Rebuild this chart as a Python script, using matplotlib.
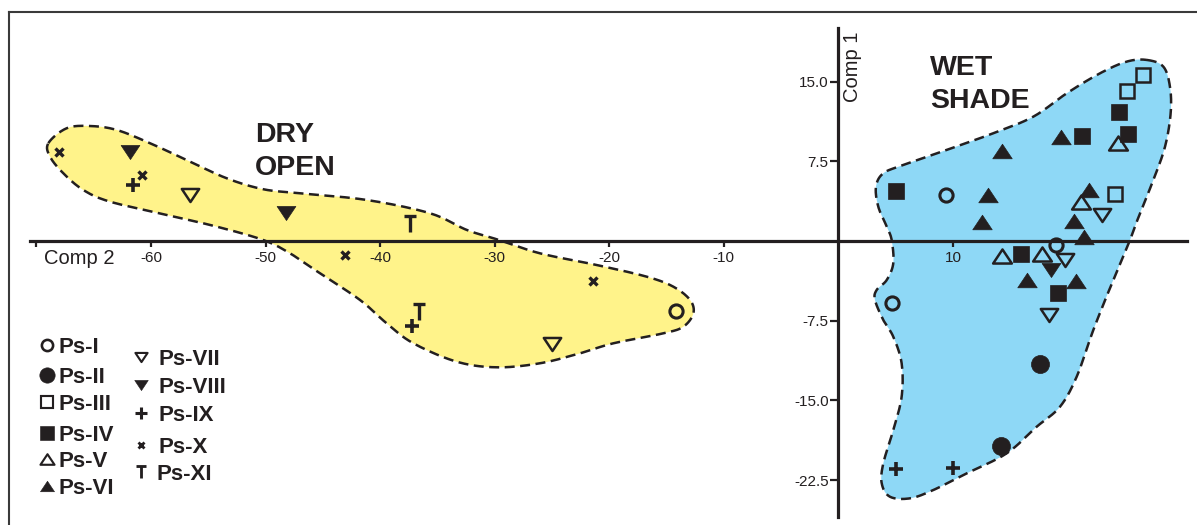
import numpy as np
import matplotlib
matplotlib.use("Agg")
import matplotlib.pyplot as plt
from matplotlib.path import Path
from matplotlib.lines import Line2D

plt.rcParams['font.family'] = ['Liberation Sans', 'DejaVu Sans']

INK = '#231f20'
YELLOW = '#fff38a'
BLUE = '#8ed8f6'

# ---------------- data (Comp 2 = x, Comp 1 = y) ----------------
ps1_x = [-14.2, 9.4, 19.0, 4.7]
ps1_y = [-6.6, 4.3, -0.4, -5.8]
ps2_x = [17.6, 14.2]
ps2_y = [-11.6, -19.3]
ps3_x = [26.6, 25.2, 24.1]
ps3_y = [15.6, 14.1, 4.4]
ps4_x = [24.5, 25.3, 21.3, 5.0, 15.9, 19.2]
ps4_y = [12.1, 10.1, 9.9, 4.7, -1.25, -4.9]
ps5_x = [24.4, 21.2, 14.3, 17.8]
ps5_y = [9.25, 3.7, -1.4, -1.2]
ps6_x = [19.4, 14.3, 13.1, 12.5, 21.9, 20.6, 21.4, 16.5, 20.7]
ps6_y = [9.8, 8.5, 4.3, 1.8, 4.8, 1.9, 0.4, -3.7, -3.8]
ps7_x = [-56.6, -25.0, 23.0, 19.8, 18.4]
ps7_y = [4.3, -9.7, 2.4, -1.8, -7.0]
ps8_x = [-61.8, -48.2, 18.6]
ps8_y = [8.4, 2.6, -2.7]
ps9_x = [-61.6, -37.2, 5.0, 10.0]
ps9_y = [5.3, -8.0, -21.5, -21.4]
ps10_x = [-68.0, -60.8, -43.1, -21.4]
ps10_y = [8.4, 6.2, -1.3, -3.8]
ps11_x = [-37.4, -36.6]
ps11_y = [1.6, -6.7]

series_names = ['Ps-I', 'Ps-II', 'Ps-III', 'Ps-IV', 'Ps-V', 'Ps-VI',
                'Ps-VII', 'Ps-VIII', 'Ps-IX', 'Ps-X', 'Ps-XI']
series_x = [ps1_x, ps2_x, ps3_x, ps4_x, ps5_x, ps6_x, ps7_x, ps8_x, ps9_x, ps10_x, ps11_x]
series_y = [ps1_y, ps2_y, ps3_y, ps4_y, ps5_y, ps6_y, ps7_y, ps8_y, ps9_y, ps10_y, ps11_y]

# group outlines (traced hull vertices)
dry_x = [-68.96, -67.36, -65.32, -62.99, -60.08, -56.88, -53.39, -50.20, -46.99, -41.17,
         -35.65, -32.44, -29.82, -26.05, -21.10, -16.73, -14.41, -12.95, -12.66, -13.54,
         -15.28, -19.65, -22.55, -26.05, -29.82, -33.32, -37.10, -39.43, -41.76, -45.25,
         -47.87, -50.20, -54.26, -58.63, -63.58, -65.91, -67.65, -68.81]
dry_y = [9.20, 10.61, 10.82, 10.45, 9.20, 7.62, 5.90, 4.87, 4.49, 3.86,
         2.61, 1.04, 0.16, -1.16, -2.26, -3.36, -4.30, -5.55, -6.81, -8.07,
         -8.69, -9.63, -10.57, -11.51, -11.89, -11.36, -9.63, -7.75, -5.55, -3.04,
         -1.16, 0.09, 1.35, 2.45, 3.70, 4.80, 6.37, 7.93]
wet_x = [26.91, 28.36, 28.94, 29.00, 28.51, 27.49, 26.32, 25.45, 23.99, 22.25,
         20.80, 19.34, 17.31, 14.69, 11.20, 8.28, 6.25, 4.50, 3.78, 3.92,
         4.79, 5.52, 5.52, 4.79, 3.92, 3.19, 3.34, 4.22, 4.79, 4.65,
         4.22, 3.48, 3.28, 3.92, 5.66, 9.45, 13.52, 17.01, 19.93, 22.83, 25.16]
wet_y = [17.04, 16.41, 14.52, 12.02, 8.88, 5.74, 2.61, 0.09, -3.67, -8.38,
         -12.77, -15.60, -17.48, -19.98, -21.87, -23.44, -24.22, -24.07, -22.81, -20.92,
         -17.79, -14.66, -11.51, -9.01, -7.44, -5.55, -4.61, -3.67, -2.10, 0.09,
         1.35, 3.23, 5.11, 6.37, 7.15, 8.57, 10.14, 11.70, 13.90, 15.78, 16.88]

xtick_vals = [-70, -60, -50, -40, -30, -20, -10, 10]
xtick_labels = ['', '-60', '-50', '-40', '-30', '-20', '-10', '10']
ytick_vals = [-22.5, -15.0, -7.5, 7.5, 15.0]
ytick_labels = ['-22.5', '-15.0', '-7.5', '7.5', '15.0']


def smooth_closed(x, y, n=16):
    pts = np.column_stack([x, y])
    N = len(pts)
    t = np.linspace(0, 1, n, endpoint=False)[:, None]
    out = []
    for i in range(N):
        p0, p1, p2, p3 = pts[i - 1], pts[i], pts[(i + 1) % N], pts[(i + 2) % N]
        seg = 0.5 * (2 * p1 + (-p0 + p2) * t + (2 * p0 - 5 * p1 + 4 * p2 - p3) * t ** 2
                     + (-p0 + 3 * p1 - 3 * p2 + p3) * t ** 3)
        out.append(seg)
    out = np.vstack(out)
    return np.vstack([out, out[:1]])


tri_up = Path([(-1, -0.75), (1, -0.75), (0, 0.75), (-1, -0.75)], closed=True)
tri_dn = Path([(-1, 0.75), (1, 0.75), (0, -0.75), (-1, 0.75)], closed=True)
t_mark = Path([(-0.8, 1), (0.8, 1), (0, 1), (0, -1)],
              [Path.MOVETO, Path.LINETO, Path.MOVETO, Path.LINETO])

# marker, size, filled, edge width
styles = [
    ('o', 9.5, False, 2.2),
    ('o', 13, True, 0.5),
    ('s', 10, False, 1.8),
    ('s', 11, True, 0.5),
    (tri_up, 13.5, False, 1.8),
    (tri_up, 14, True, 0.5),
    (tri_dn, 12.5, False, 1.8),
    (tri_dn, 13.5, True, 0.5),
    ('+', 9.5, False, 2.6),
    ('x', 5.5, False, 2.4),
    (t_mark, 11, False, 2.4),
]

fig = plt.figure(figsize=(11.97, 5.25), dpi=100)
ax = fig.add_axes([0, 0, 1, 1])
ax.set_xlim(-73.18, 31.30)
ax.set_ylim(-26.73, 22.68)

# group shading
for gx, gy, col in [(dry_x, dry_y, YELLOW), (wet_x, wet_y, BLUE)]:
    s = smooth_closed(gx, gy)
    ax.fill(s[:, 0], s[:, 1], color=col, zorder=1, lw=0)
    ax.plot(s[:, 0], s[:, 1], color=INK, lw=1.8, ls=(0, (4, 2.2)), zorder=1.5)

# axes through the origin
for side in ['top', 'right']:
    ax.spines[side].set_visible(False)
ax.spines['bottom'].set_position(('data', 0))
ax.spines['left'].set_position(('data', 0))
ax.spines['bottom'].set_bounds(-70.6, 30.4)
ax.spines['left'].set_bounds(-26.0, 20.0)
for side in ['bottom', 'left']:
    ax.spines[side].set_linewidth(2.3)
    ax.spines[side].set_color(INK)
    ax.spines[side].set_zorder(2)

ax.set_xticks(xtick_vals)
ax.set_xticklabels(xtick_labels)
ax.set_yticks(ytick_vals)
ax.set_yticklabels(ytick_labels)
ax.tick_params(axis='x', direction='out', length=4.5, width=1.6, color=INK,
               labelsize=11, labelcolor=INK, pad=3)
ax.tick_params(axis='y', direction='out', length=6, width=1.6, color=INK,
               labelsize=11, labelcolor=INK, pad=1)

# points
for xs, ys, (mk, ms, filled, mew) in zip(series_x, series_y, styles):
    ax.plot(xs, ys, ls='none', marker=mk, ms=ms, mew=mew,
            mec=INK, mfc=INK if filled else 'none', zorder=3, clip_on=False)

# labels
ax.text(1.27, 16.4, 'Comp 1', rotation=90, ha='center', va='center',
        fontsize=14.5, color=INK)
ax.text(-66.3, -1.69, 'Comp 2', ha='center', va='center', fontsize=14.5, color=INK)
ax.text(-50.9, 11.2, 'DRY\nOPEN', ha='left', va='top', fontsize=20.5,
        fontweight='bold', color=INK, linespacing=1.35)
ax.text(7.99, 17.5, 'WET\nSHADE', ha='left', va='top', fontsize=20.5,
        fontweight='bold', color=INK, linespacing=1.35)

# legend (two staggered columns), positions in figure pixels
W, H = 1197.0, 525.0
leg_mx = [47, 47, 47, 47, 47, 47, 141, 141, 141, 141, 141]
leg_tx = [58, 58, 58, 58, 58, 58, 158, 158, 158, 158, 157]
leg_cy = [345, 375, 402, 433, 459, 486, 357, 385, 413, 445, 472]
leg_scale = [0.85, 0.85, 0.9, 0.9, 0.75, 0.72, 0.7, 0.72, 0.95, 0.85, 0.8]
for name, mx, tx, cy, sc, (mk, ms, filled, mew) in zip(series_names, leg_mx, leg_tx,
                                                        leg_cy, leg_scale, styles):
    ax.plot([mx / W], [1 - cy / H], transform=ax.transAxes, ls='none', marker=mk,
            ms=ms * sc, mew=mew * 0.85, mec=INK, mfc=INK if filled else 'none',
            clip_on=False, zorder=3)
    ax.text(tx / W, 1 - (cy + 8) / H, name, transform=ax.transAxes, ha='left',
            va='baseline', fontsize=16, fontweight='bold', color=INK)

# outer frame (top and left)
fig.add_artist(Line2D([8.5 / W, 1.0], [1 - 12 / H, 1 - 12 / H], transform=fig.transFigure,
                      color='#3a3a3a', lw=1.5))
fig.add_artist(Line2D([8.5 / W, 8.5 / W], [0, 1 - 12 / H], transform=fig.transFigure,
                      color='#3a3a3a', lw=1.5))

fig.savefig('out.png', dpi=100, facecolor='white')
